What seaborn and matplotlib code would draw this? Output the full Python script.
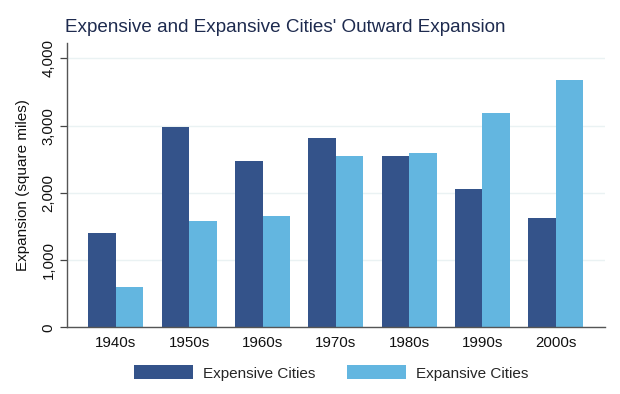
import matplotlib
matplotlib.use("Agg")
import matplotlib.pyplot as plt
import seaborn as sns
import pandas as pd
from matplotlib.ticker import FuncFormatter
from matplotlib.patches import Patch

decades = ["1940s", "1950s", "1960s", "1970s", "1980s", "1990s", "2000s"]
expensive = [1410, 2985, 2470, 2820, 2555, 2060, 1630]
expansive = [598, 1585, 1655, 2545, 2600, 3185, 3675]
series = ["Expensive Cities", "Expansive Cities"]
colors = ["#34538A", "#63B6E0"]
yticks = [0, 1000, 2000, 3000, 4000]

df = pd.DataFrame({
    "decade": decades * 2,
    "value": expensive + expansive,
    "series": [series[0]] * len(decades) + [series[1]] * len(decades),
})

sns.set_theme(style="white")
plt.rcParams["font.family"] = ["Liberation Sans", "DejaVu Sans"]

fig = plt.figure(figsize=(6.2, 3.94), dpi=100)
ax = fig.add_axes([66.7 / 620, 1 - 327.3 / 394, (605 - 66.7) / 620, (327.3 - 43) / 394])

sns.barplot(data=df, x="decade", y="value", hue="series", order=decades,
            hue_order=series, palette=colors, width=0.75, saturation=1,
            edgecolor="none", ax=ax, legend=False)

ax.set_xlim(-0.672, 6.672)
ax.set_ylim(0, 4230)
ax.set_yticks(yticks)
ax.yaxis.set_major_formatter(FuncFormatter(lambda v, p: f"{int(v):,}"))
ax.yaxis.grid(True, color="#EAF2F3", linewidth=1.0)
ax.set_axisbelow(True)
for lbl in ax.get_yticklabels():
    lbl.set_rotation(90)
    lbl.set_va("center")
ax.tick_params(axis="y", which="both", left=True, length=5, width=0.9,
               color="#444444", labelsize=10.8, labelcolor="#111111", pad=3)
ax.tick_params(axis="x", bottom=False, labelsize=10.8, labelcolor="#111111", pad=0.5)
for s in ["top", "right"]:
    ax.spines[s].set_visible(False)
for s in ["left", "bottom"]:
    ax.spines[s].set_color("#555555")
    ax.spines[s].set_linewidth(1.0)
ax.set_xlabel("")
ax.set_ylabel("Expansion (square miles)", fontsize=11, color="#111111", labelpad=8)

fig.text(65 / 620, 1 - 27 / 394, "Expensive and Expansive Cities' Outward Expansion",
         ha="left", va="center", fontsize=13.6, color="#1E2B4F")

handles = [Patch(facecolor=c, edgecolor="none") for c in colors]
leg = fig.legend(handles, series, loc="center", bbox_to_anchor=(331 / 620, 1 - 373 / 394),
                 ncol=2, frameon=False, fontsize=11, handlelength=3.86,
                 handleheight=1.0, handletextpad=0.65, columnspacing=2.1)

fig.savefig("out.png", dpi=100, facecolor="white")
